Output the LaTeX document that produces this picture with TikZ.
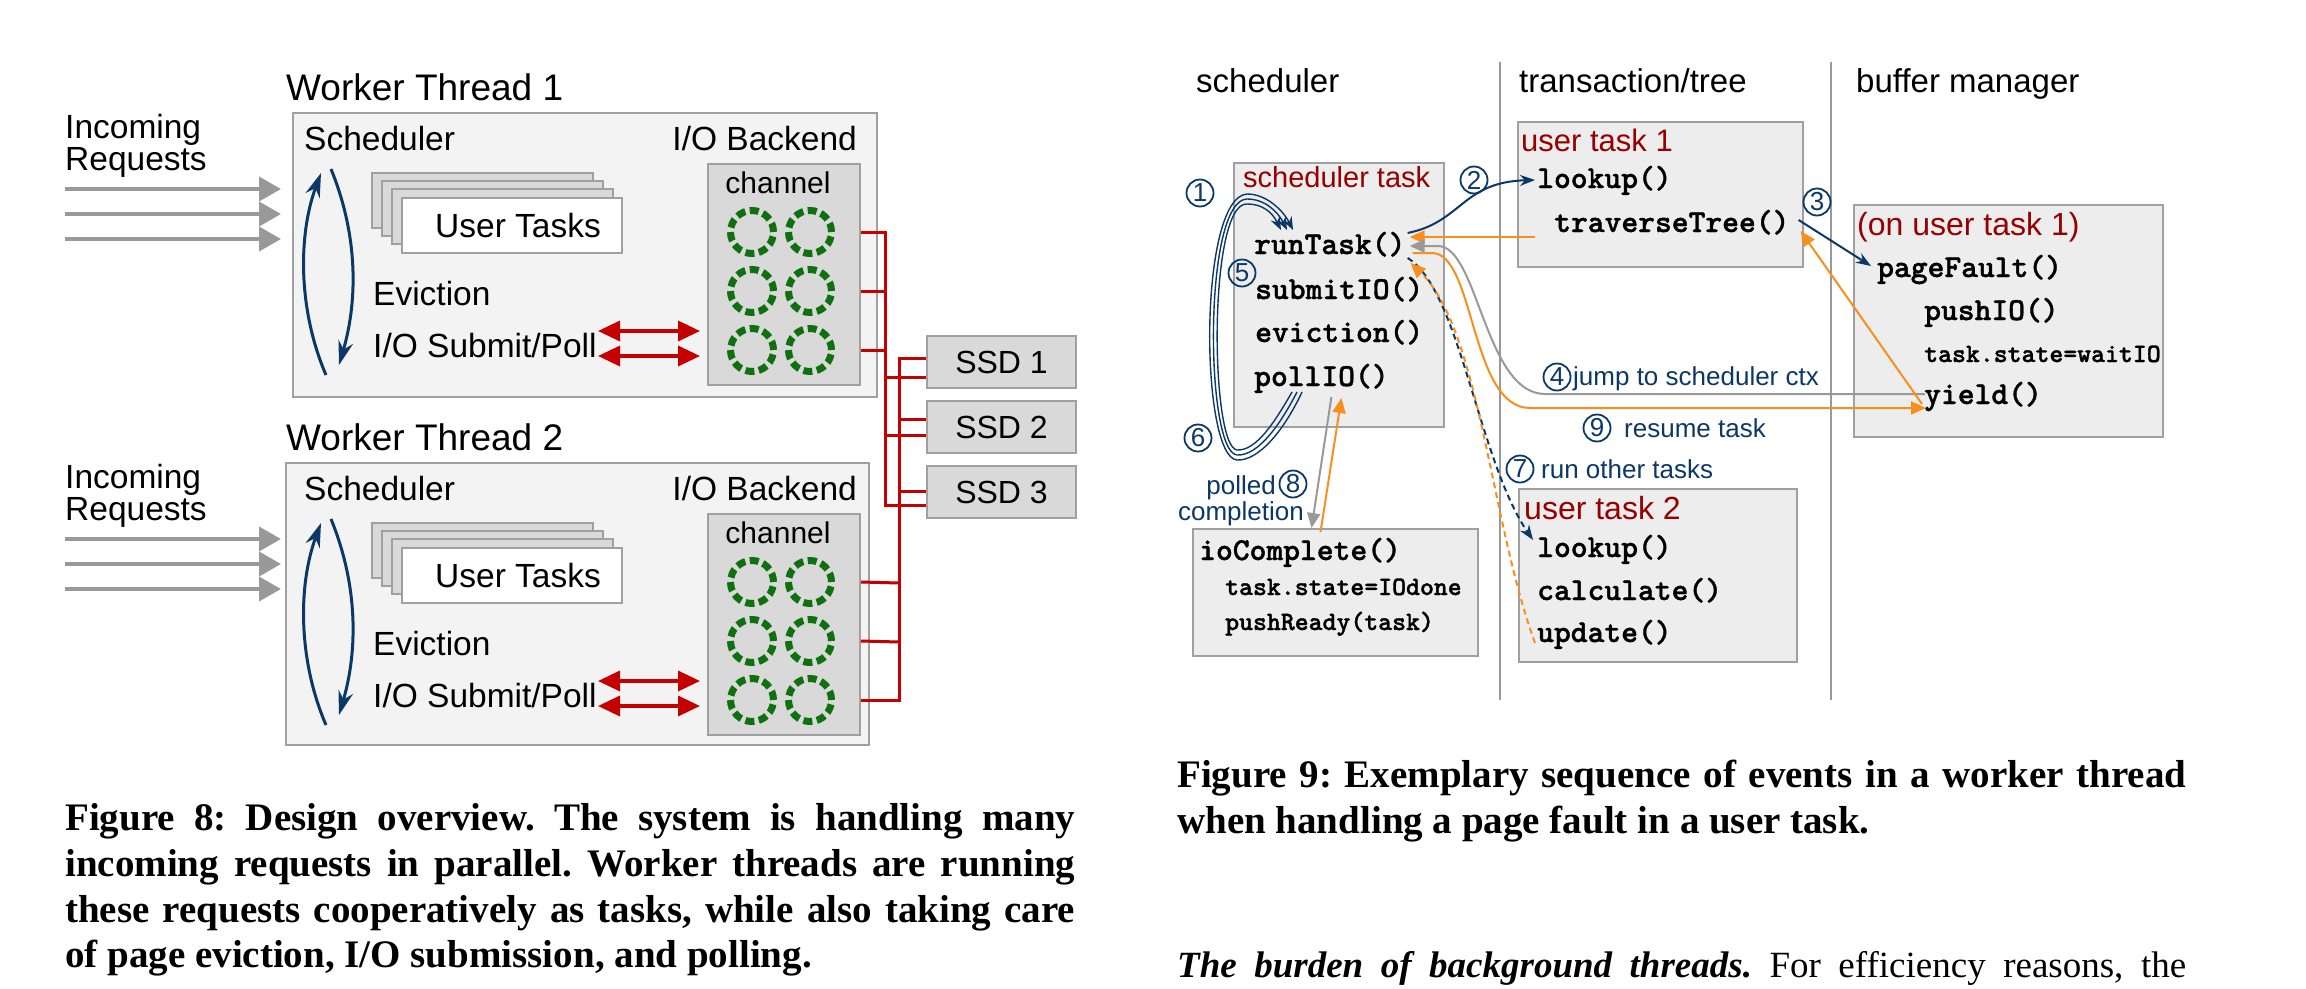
\documentclass[tikz,border=0pt]{standalone}
\usepackage{fontspec}
\setmainfont{Liberation Serif}
\newfontfamily\sff{Liberation Sans}
\newfontfamily\codef{lmmonolt10-bold.otf}[FakeBold=1.2]
\usetikzlibrary{arrows.meta,calc}
\newcommand\fsz[1]{\fontsize{#1pt}{#1pt}\selectfont}
\frenchspacing
\definecolor{navy}{RGB}{12,56,104}
\definecolor{dred}{RGB}{150,0,0}
\definecolor{orng}{RGB}{247,143,30}
\definecolor{gline}{RGB}{153,153,153}
\definecolor{boxbd}{RGB}{160,160,160}
\definecolor{boxbg}{RGB}{237,237,237}
\definecolor{outerbg}{RGB}{243,243,243}
\definecolor{cardbg}{RGB}{217,217,217}
\definecolor{chred}{RGB}{196,0,0}
\definecolor{dgreen}{RGB}{14,112,14}
\tikzset{
  lbl/.style={inner sep=0pt, anchor=base west, font=\sff\fsz{33.5}},
  ttl/.style={lbl, font=\sff\fsz{37}},
  code/.style={inner sep=0pt, anchor=base west, font=\codef\fsz{32}},
  codes/.style={code, font=\codef\fsz{26.5}},
  rtitle/.style={inner sep=0pt, anchor=base west, text=dred},
  nlbl/.style={inner sep=0pt, anchor=base west, text=navy, font=\sff\fsz{26}},
  numc/.style={circle, draw=navy, line width=1.8pt, minimum size=27pt, inner sep=0pt, text=navy, font=\sff\fsz{26}},
  wtbox/.style={draw=boxbd, fill=outerbg, line width=2pt, inner sep=0pt, anchor=north west},
  gbox/.style={draw=boxbd, fill=boxbg, line width=2pt, inner sep=0pt, anchor=north west},
  cbox/.style={draw=boxbd, fill=cardbg, line width=2pt, inner sep=0pt, anchor=north west},
  wcard/.style={draw=boxbd, fill=white, line width=2pt, inner sep=0pt, anchor=north west},
  dcirc/.style={circle, draw=dgreen, line width=7pt, minimum size=43pt, inner sep=0pt, dash pattern=on 9pt off 4.5pt},
  inarr/.style={draw=gline, line width=4pt, -{Triangle[length=22pt,width=24pt]}},
  navyarc/.style={draw=navy, line width=3pt, -{Stealth[length=24pt,width=15pt]}},
  rarr/.style={draw=chred, line width=3.5pt, {Triangle[length=22pt,width=20pt]}-{Triangle[length=22pt,width=20pt]}},
  wire/.style={draw=chred, line width=3pt},
  sepl/.style={draw=gline, line width=2pt},
  nav/.style={draw=navy, line width=2pt, -{Stealth[length=15pt,width=11pt]}},
  navd/.style={nav, dash pattern=on 6pt off 4pt},
  one/.style={draw=navy, line width=1.4pt, -{Stealth[length=13pt,width=10pt]}},
  org/.style={draw=orng, line width=2pt, -{Triangle[length=15pt,width=13pt]}},
  orgd/.style={org, dash pattern=on 6pt off 4pt},
  gry/.style={draw=gline, line width=2pt, -{Triangle[length=15pt,width=13pt]}},
  capl/.style={inner sep=0pt, anchor=base west, font=\bfseries\fsz{39}},
}
\newcommand\workerthread[5]{%
\begin{scope}[yshift=-#2pt]
\node[wtbox, minimum width=#4pt, minimum height=#5pt] (wt#1) at (#3,112) {};
\node[ttl] (wtt#1) at (286,100) {Worker Thread #1};
\node[lbl] (inc#1) at (65,138) {Incoming};
\node[lbl] (req#1) at (65,170) {Requests};
\foreach \yy/\k in {189/a,214/b,239/c}{%
  \coordinate (ins#1\k) at (65,\yy);
  \coordinate (ine#1\k) at (281,\yy);
  \draw[inarr] (ins#1\k) -- (ine#1\k);}
\node[lbl] (sch#1) at (304,150) {Scheduler};
\node[lbl, anchor=base east] (iob#1) at (857,150) {I/O Backend};
\node[cbox, minimum width=152pt, minimum height=221pt] (ch#1) at (707,163) {};
\node[lbl, anchor=base, font=\sff\fsz{30}] (cht#1) at (778,193) {channel};
\foreach \cx/\cc in {752/a,810/b}{\foreach \cy/\rr in {232/1,291/2,350/3}{\node[dcirc] (c#1\cc\rr) at (\cx,\cy) {};}}
\node[cbox, minimum width=221pt, minimum height=55pt] (cda#1) at (371,172) {};
\node[cbox, minimum width=221pt, minimum height=55pt] (cdb#1) at (381,180) {};
\node[cbox, minimum width=221pt, minimum height=55pt] (cdc#1) at (391,188) {};
\node[wcard, minimum width=220pt, minimum height=55pt] (cdd#1) at (401,197) {};
\node[lbl] (utk#1) at (435,237) {User Tasks};
\node[lbl] (evi#1) at (373,305) {Eviction};
\node[lbl] (ios#1) at (373,357) {I/O Submit/Poll};
\coordinate (ala#1) at (326,375); \coordinate (alb#1) at (321,173);
\draw[navyarc] (ala#1) .. controls (298,310) and (298,235) .. (alb#1);
\coordinate (ara#1) at (331,169); \coordinate (arb#1) at (339,365);
\draw[navyarc] (ara#1) .. controls (358,235) and (358,300) .. (arb#1);
\coordinate (rs#1a) at (598,331); \coordinate (re#1a) at (700,331);
\coordinate (rs#1b) at (598,356); \coordinate (re#1b) at (700,356);
\draw[rarr] (rs#1a) -- (re#1a);
\draw[rarr] (rs#1b) -- (re#1b);
\end{scope}}
\begin{document}
\begin{tikzpicture}[x=1pt,y=-1pt]
\fill[white] (0,0) rectangle (2306,988);
\useasboundingbox (0,0) rectangle (2306,988);
% ---------------- Figure 8
\workerthread{1}{0}{292}{584}{284}
\workerthread{2}{350}{285}{583}{282}
\node[cbox, minimum width=149pt, minimum height=52pt, font=\sff\fsz{32}] (ssd1) at (926,335) {SSD 1};
\node[cbox, minimum width=149pt, minimum height=52pt, font=\sff\fsz{32}] (ssd2) at (926,400) {SSD 2};
\node[cbox, minimum width=149pt, minimum height=52pt, font=\sff\fsz{32}] (ssd3) at (926,465) {SSD 3};
\draw[wire] (ch1.east |- c1b1) -- (885,232) |- (ssd3.west |- 926,505);
\draw[wire] (ch1.east |- c1b2) -- (885,291);
\draw[wire] (ch1.east |- c1b3) -- (885,350);
\draw[wire] (885,377) -- (ssd1.west |- 926,377);
\draw[wire] (885,435) -- (ssd2.west |- 926,435);
\draw[wire] (ch2.east |- c2b3) -- (899,700) |- (ssd1.west |- 926,358);
\draw[wire] (ch2.east |- c2b1) -- (899,583);
\draw[wire] (ch2.east |- c2b2) -- (899,642);
\draw[wire] (899,419) -- (ssd2.west |- 926,419);
\draw[wire] (899,491) -- (ssd3.west |- 926,491);
% ---------------- Figure 9
\coordinate (s1t) at (1500,62); \coordinate (s1b) at (1500,700);
\coordinate (s2t) at (1831,62); \coordinate (s2b) at (1831,700);
\draw[sepl] (s1t) -- (s1b);
\draw[sepl] (s2t) -- (s2b);
\node[lbl, font=\sff\fsz{33}] (hsch) at (1196,92) {scheduler};
\node[lbl, font=\sff\fsz{33}] (htt) at (1519,92) {transaction/tree};
\node[lbl, font=\sff\fsz{33}] (hbm) at (1856,92) {buffer manager};
\node[gbox, minimum width=210pt, minimum height=264pt] (stb) at (1233,162) {};
\node[gbox, minimum width=285pt, minimum height=145pt] (ut1) at (1517,121) {};
\node[gbox, minimum width=309pt, minimum height=232pt] (oub) at (1853,204) {};
\node[gbox, minimum width=278pt, minimum height=173pt] (ut2) at (1518,488) {};
\node[gbox, minimum width=285pt, minimum height=127pt] (iocb) at (1192,528) {};
\node[rtitle, font=\sff\fsz{29}] (tst) at (1243,187) {scheduler task};
\node[rtitle, font=\sff\fsz{31}] (tut1) at (1521,151) {user task 1};
\node[rtitle, font=\sff\fsz{32}] (tou) at (1857,235) {(on user task 1)};
\node[rtitle, font=\sff\fsz{32}] (tut2) at (1524,519) {user task 2};
\node[code] (runT) at (1254,254) {runTask()};
\node[code] (subIO) at (1255,299) {submitIO()};
\node[code] (evic) at (1255,342) {eviction()};
\node[code] (pollIO) at (1254,386) {pollIO()};
\node[code] (look1) at (1537,188) {lookup()};
\node[code] (trav) at (1554,232) {traverseTree()};
\node[code] (pgf) at (1877,277) {pageFault()};
\node[code] (pushIO) at (1924,320) {pushIO()};
\node[codes] (tsw) at (1924,362) {task.state=waitIO};
\node[code] (yld) at (1924,404) {yield()};
\node[code] (iocm) at (1199,560) {ioComplete()};
\node[codes] (tsd) at (1225,595) {task.state=IOdone};
\node[codes] (pshr) at (1225,630) {pushReady(task)};
\node[code] (look2) at (1537,557) {lookup()};
\node[code] (calcf) at (1537,600) {calculate()};
\node[code] (upd) at (1537,642) {update()};
% labels
\node[numc] (n1) at (1200,193) {1};
\node[numc] (n2) at (1474,180) {2};
\node[numc] (n3) at (1817,202) {3};
\node[numc] (n4) at (1557,377) {4};
\node[numc] (n5) at (1242,273) {5};
\node[numc] (n6) at (1198,438) {6};
\node[numc] (n7) at (1520,469) {7};
\node[numc] (n8) at (1293,484) {8};
\node[numc] (n9) at (1597,428) {9};
\node[nlbl] (l4) at (1573,385) {jump to scheduler ctx};
\node[nlbl] (l9) at (1624,437) {resume task};
\node[nlbl] (l7) at (1541,478) {run other tasks};
\node[nlbl, anchor=base east] (l8a) at (1276,494) {polled};
\node[nlbl, anchor=base east] (l8b) at (1304,520) {completion};
% connectors
\foreach \r in {-5,0,5}{
\draw[one] ({1297+\r},392) .. controls ({1280+\r},{425+0.7*\r}) and ({1258+0.3*\r},{456+\r}) .. (1237,{455+\r})
  .. controls ({1205-\r},{452+\r}) and ({1203-\r},{200-0.5*\r}) .. (1247,{199-\r})
  .. controls ({1265+0.5*\r},{199-\r}) and ({1278+1.2*\r},212) .. ({1287+1.2*\r},230);}
\draw[nav] ($(runT.base east)+(2,-21)$) .. controls (1462,222) and (1462,182) .. ($(look1.base west)+(-2,-8)$);
\draw[nav] ($(trav.base east)+(9,-12)$) -- ($(pgf.base west)+(-6,-11)$);
\draw[org] ($(trav.base west)+(-19,5)$) -- ($(runT.base east)+(4,-17)$);
\draw[gry] ($(yld.base west)+(1,-10)$) -- (1545,394) .. controls (1485,394) and (1478,246) .. (1438,246) -- ($(runT.base east)+(4,-8)$);
\draw[org] ($(runT.base east)+(7,-1)$) -- (1432,253) .. controls (1475,253) and (1470,408) .. (1530,408) -- ($(yld.base west)+(2,4)$);
\draw[org] ($(yld.base west)+(-2,0)$) -- ($(trav.base east)+(11,-1)$);
\draw[navd] ($(runT.base east)+(2,4)$) .. controls (1460,290) and (1478,460) .. ($(look2.base west)+(-4,-17)$);
\draw[orgd] ($(upd.base west)+(-2,1)$) .. controls (1490,520) and (1480,330) .. ($(runT.base east)+(5,9)$);
\draw[gry] ($(pollIO.base)+(10,11)$) -- ($(iocb.north)+(-24,0)$);
\draw[org] ($(iocb.north)+(-15,4)$) -- ($(pollIO.base)+(20,12)$);
% ---------------- captions
\node[capl] (c8a) at (65,830) {\makebox[1010pt][s]{Figure 8: Design overview. The system is handling many}};
\node[capl] (c8b) at (65,876) {\makebox[1010pt][s]{incoming requests in parallel. Worker threads are running}};
\node[capl] (c8c) at (65,922) {\makebox[1010pt][s]{these requests cooperatively as tasks, while also taking care}};
\node[capl] (c8d) at (65,967) {of page eviction, I/O submission, and polling.};
\node[capl] (c9a) at (1177,787) {\makebox[1009pt][s]{Figure 9: Exemplary sequence of events in a worker thread}};
\node[capl] (c9b) at (1177,833) {when handling a page fault in a user task.};
\node[inner sep=0pt, anchor=base west, font=\fsz{37}] (btx) at (1177,977) {\makebox[1009pt][s]{{\bfseries\itshape The burden of background threads.} For efficiency reasons, the}};
\end{tikzpicture}
\end{document}
